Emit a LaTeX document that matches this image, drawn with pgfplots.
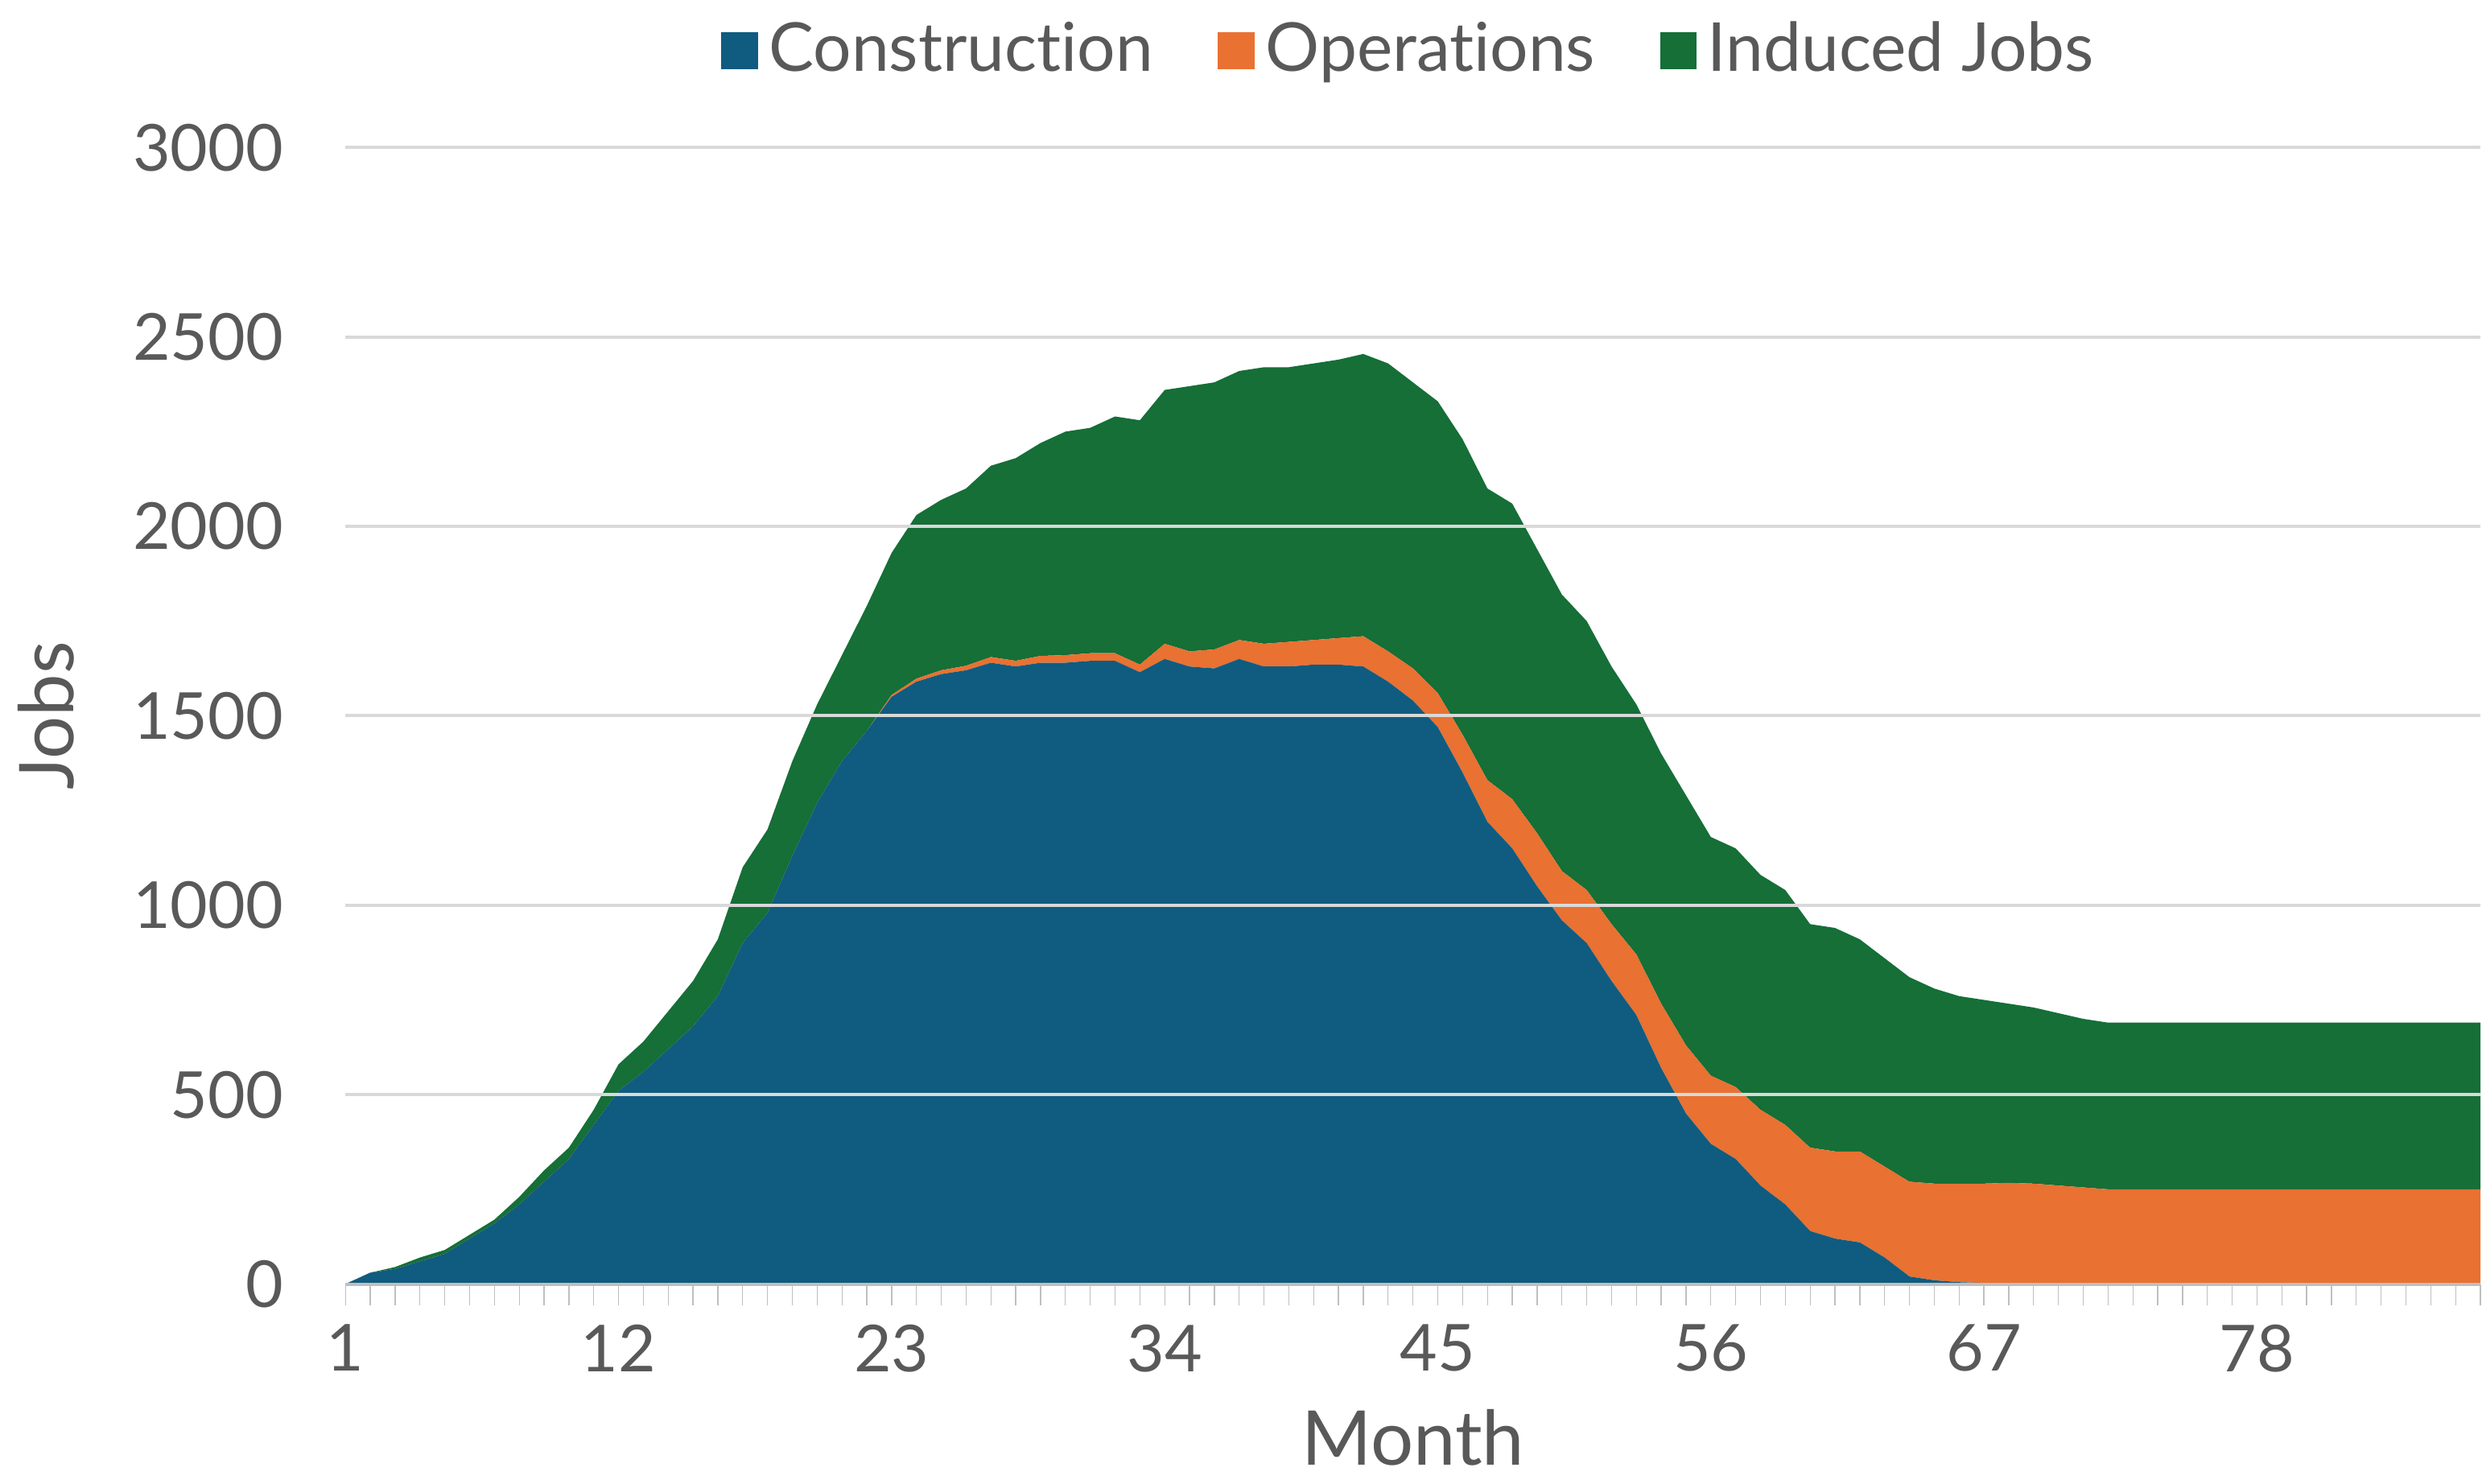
\documentclass[border=0pt]{standalone}
\usepackage{pgfplots}
\usepackage{pgfplotstable}
\pgfplotsset{compat=1.18}
\usepackage{fontspec}
\setmainfont{Lato}[Ligatures=NoCommon]
\definecolor{cblue}{HTML}{0F5C80}
\definecolor{corange}{HTML}{E97132}
\definecolor{cgreen}{HTML}{156F37}
\definecolor{tgray}{HTML}{595959}
\pgfplotstableread{
M C O T
1 0 0 0
2 30 0 30
3 40 0 45
4 60 0 70
5 80 0 90
6 120 0 130
7 160 0 170
8 210 0 230
9 270 0 300
10 330 0 360
11 420 0 460
12 510 0 580
13 560 0 640
14 620 0 720
15 680 0 800
16 760 0 910
17 900 0 1100
18 980 0 1200
19 1130 0 1380
20 1270 0 1530
21 1380 0 1660
22 1460 0 1790
23 1550 5 1930
24 1590 8 2030
25 1610 10 2070
26 1620 12 2100
27 1640 15 2160
28 1630 15 2180
29 1640 18 2220
30 1640 20 2250
31 1645 20 2260
32 1645 20 2290
33 1615 20 2280
34 1650 40 2360
35 1630 40 2370
36 1625 50 2380
37 1650 50 2410
38 1630 60 2420
39 1630 65 2420
40 1635 65 2430
41 1635 70 2440
42 1630 80 2455
43 1590 80 2430
44 1540 85 2380
45 1470 90 2330
46 1350 100 2230
47 1220 110 2100
48 1150 130 2060
49 1050 140 1940
50 960 130 1820
51 900 140 1750
52 800 150 1630
53 710 160 1530
54 570 170 1400
55 450 180 1290
56 370 180 1180
57 330 190 1150
58 260 200 1080
59 210 210 1040
60 140 220 950
61 120 230 940
62 110 240 910
63 70 240 860
64 20 250 810
65 10 255 780
66 5 260 760
67 3 262 750
68 2 265 740
69 0 265 730
70 0 260 715
71 0 255 700
72 0 250 690
73 0 250 690
74 0 250 690
75 0 250 690
76 0 250 690
77 0 250 690
78 0 250 690
79 0 250 690
80 0 250 690
81 0 250 690
82 0 250 690
83 0 250 690
84 0 250 690
85 0 250 690
86 0 250 690
87 0 250 690
}\data
\begin{document}
\begin{tikzpicture}
\begin{axis}[
  scale only axis, width=13.9cm, height=7.4cm,
  xmin=1, xmax=87, ymin=0, ymax=3000,
  stack plots=y, area style,
  xtick={1,12,23,34,45,56,67,78},
  minor xtick={1,...,87},
  ytick={0,500,...,3000},
  ymajorgrids, grid style={gray!30, line width=0.6pt},
  axis x line*=bottom, axis y line*=left,
  y axis line style={draw=none},
  x axis line style={gray!50, line width=0.6pt},
  major tick length=0pt, minor tick length=4pt,
  minor x tick style={gray!50},
  xtick align=outside,
  yticklabel style={xshift=-8pt},
  xticklabel style={yshift=-4pt},
  ticklabel style={font=\fontsize{12}{14}\selectfont, text=tgray},
  /pgf/number format/assume math mode=true,
  /pgf/number format/1000 sep={},
  xlabel={Month}, ylabel={Jobs},
  label style={font=\fontsize{14}{16}\selectfont, text=tgray},
  ylabel style={yshift=4pt},
  legend style={at={(0.5,1.04)}, anchor=south, draw=none, legend columns=3,
    font=\fontsize{12.5}{14}\selectfont, text=tgray,
    /tikz/every even column/.append style={column sep=10pt}},
  legend image code/.code={\fill[#1] (0cm,-0.12cm) rectangle (0.24cm,0.12cm);},
]
\addplot[fill=cblue, draw=none] table[x=M, y=C] {\data} \closedcycle;
\addlegendentry{Construction}
\addplot[fill=corange, draw=none] table[x=M, y=O] {\data} \closedcycle;
\addlegendentry{Operations}
\addplot[fill=cgreen, draw=none] table[x=M, y expr=\thisrow{T}-\thisrow{C}-\thisrow{O}] {\data} \closedcycle;
\addlegendentry{Induced Jobs}
\end{axis}
\end{tikzpicture}
\end{document}
